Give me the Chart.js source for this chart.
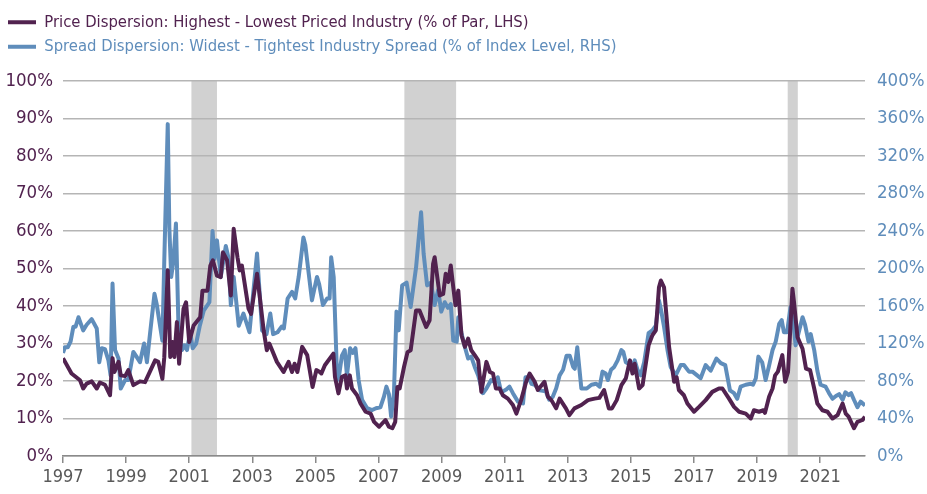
<!DOCTYPE html>
<html>
<head>
<meta charset="utf-8">
<script src="https://cdn.jsdelivr.net/npm/chart.js@4.4.1/dist/chart.umd.min.js"></script>
<style>
  html, body { margin: 0; padding: 0; background: #fff; }
  #wrap { width: 927px; height: 494px; }
</style>
</head>
<body>
<div id="wrap"><canvas id="dispersionChart" width="927" height="494"></canvas></div>
<script>
// Price dispersion (LHS, % of par)
var priceDates = [1997.0,1997.27,1997.54,1997.64,1997.75,1997.91,1998.07,1998.17,1998.33,1998.49,1998.57,1998.63,1998.76,1998.83,1998.97,
  1999.07,1999.23,1999.44,1999.6,1999.92,2000.02,2000.15,2000.21,2000.32,2000.4,2000.47,2000.53,2000.61,2000.68,2000.82,2000.9,
  2001.0,2001.14,2001.35,2001.42,2001.58,2001.67,2001.75,2001.88,2002.0,2002.07,2002.2,2002.32,2002.41,2002.53,2002.6,2002.67,2002.88,2002.96,
  2003.15,2003.25,2003.36,2003.46,2003.54,2003.78,2003.99,2004.15,2004.26,2004.34,2004.43,2004.58,2004.74,2004.91,
  2005.03,2005.14,2005.19,2005.3,2005.57,2005.62,2005.73,2005.84,2005.95,2006.0,2006.09,2006.16,2006.32,2006.43,2006.59,2006.75,2006.86,
  2007.02,2007.22,2007.33,2007.44,2007.53,2007.6,2007.67,2007.81,2007.92,2008.02,2008.19,2008.3,2008.51,2008.62,2008.73,2008.78,2008.94,
  2009.05,2009.13,2009.21,2009.29,2009.37,2009.44,2009.53,2009.63,2009.74,2009.84,2009.94,2010.05,2010.16,2010.26,2010.42,2010.53,2010.63,2010.72,2010.84,2010.94,
  2011.1,2011.26,2011.37,2011.52,2011.68,2011.79,2011.95,2012.05,2012.26,2012.37,2012.48,2012.63,2012.74,2012.94,
  2013.05,2013.21,2013.43,2013.64,2013.85,2014.0,2014.15,2014.3,2014.4,2014.55,2014.7,2014.84,2014.97,
  2015.05,2015.12,2015.26,2015.37,2015.56,2015.68,2015.79,2015.89,2015.95,2016.05,2016.21,2016.37,2016.45,2016.52,2016.68,2016.79,
  2017.0,2017.16,2017.37,2017.58,2017.79,2017.9,2018.11,2018.27,2018.43,2018.64,2018.8,2018.9,
  2019.06,2019.2,2019.25,2019.38,2019.49,2019.57,2019.66,2019.8,2019.89,2019.98,2020.12,2020.17,2020.28,2020.44,2020.55,2020.68,2020.81,2020.91,
  2021.07,2021.23,2021.39,2021.55,2021.71,2021.81,2021.9,2022.07,2022.18,2022.34,2022.42];
var priceValues = [26.1,22,20.2,18,19.3,19.9,18,19.6,19,16.2,26.1,22.4,25.1,21.5,21.3,
  22.9,18.9,19.9,19.7,25.5,25.1,20.6,26.3,49.5,26.4,30.4,26.4,35.7,24.6,39.3,41,
  30.4,34.8,37,44.1,44.1,50.8,52.2,48.1,47.7,54.3,52.2,42.8,60.6,53,49.5,50.8,39.3,37.9,
  48.6,41.5,33.5,28.2,30,25.1,22.4,25.1,22.4,24.6,22.4,29.1,26.9,18.4,
  22.9,22.4,22,24.2,27.3,21.1,16.7,21.1,21.5,18,21.5,18,16.2,14,11.8,11.3,9.1,
  7.8,9.6,7.8,7.4,9.1,18.4,18,23.8,27.7,28.2,38.8,38.8,34.4,36.2,51.2,53,42.8,
  43.2,48.6,46.4,50.8,45,40.2,44.1,32.2,29.1,31.3,28.2,26.9,25.5,17.1,25.1,22.4,22,18,18,16.2,
  15.3,13.6,11.3,14.9,19.8,22,19.8,17.6,19.8,15.8,14.9,12.7,15.3,12.7,
  10.9,12.7,13.6,14.9,15.3,15.5,17.6,12.7,12.7,14.9,18.9,20.7,25.5,
  22,24.6,18,18.9,29.5,32.2,33.5,45,46.8,45,29.1,19.8,21,17.6,16.2,14,
  11.8,13.1,14.9,17.1,18,18,15.3,13.1,11.8,11.3,10,12.2,
  11.8,12.2,11.5,15.8,18,21.5,22.5,26.9,19.8,22.4,44.6,41,31.7,28.6,23.3,22.9,18,14,
  12.2,11.8,10,10.9,14,11.3,10.5,7.4,9.1,9.6,10.5];

// Spread dispersion (RHS, % of index level)
var spreadDates = [1997.0,1997.06,1997.15,1997.24,1997.33,1997.4,1997.49,1997.64,1997.75,1997.91,1998.07,1998.15,1998.23,1998.33,1998.44,1998.51,1998.57,1998.65,1998.76,1998.83,1998.97,
  1999.07,1999.23,1999.33,1999.44,1999.57,1999.66,1999.76,1999.9,1999.97,2000.08,2000.15,2000.21,2000.32,2000.37,2000.43,2000.5,2000.58,2000.66,2000.77,2000.85,2000.93,
  2001.03,2001.11,2001.22,2001.33,2001.46,2001.64,2001.74,2001.8,2001.88,2002.0,2002.16,2002.24,2002.32,2002.41,2002.57,2002.72,2002.91,
  2003.15,2003.31,2003.45,2003.57,2003.66,2003.8,2003.93,2004.0,2004.12,2004.26,2004.36,2004.47,2004.62,2004.68,2004.89,
  2005.05,2005.12,2005.24,2005.37,2005.45,2005.5,2005.58,2005.69,2005.76,2005.84,2005.93,2006.0,2006.1,2006.18,2006.27,2006.37,2006.48,2006.64,2006.8,2006.92,
  2007.06,2007.17,2007.25,2007.33,2007.4,2007.49,2007.57,2007.64,2007.75,2007.89,2008.02,2008.19,2008.35,2008.43,2008.54,2008.66,2008.78,2008.89,2008.99,
  2009.1,2009.2,2009.29,2009.37,2009.48,2009.53,2009.63,2009.74,2009.84,2009.94,2010.05,2010.16,2010.31,2010.42,2010.57,2010.68,2010.78,2010.89,
  2011.05,2011.15,2011.26,2011.42,2011.58,2011.66,2011.75,2011.85,2011.95,2012.11,2012.3,2012.41,2012.52,2012.63,2012.74,2012.85,2012.96,
  2013.06,2013.17,2013.22,2013.3,2013.43,2013.6,2013.75,2013.9,2014.01,2014.1,2014.2,2014.27,2014.37,2014.47,2014.58,2014.7,2014.76,2014.84,2014.95,
  2015.05,2015.12,2015.21,2015.31,2015.42,2015.56,2015.68,2015.79,2015.89,2015.96,2016.05,2016.16,2016.26,2016.42,2016.58,2016.68,2016.84,2016.95,
  2017.1,2017.21,2017.37,2017.53,2017.71,2017.85,2017.99,2018.14,2018.27,2018.37,2018.48,2018.64,2018.8,2018.87,2018.96,
  2019.04,2019.16,2019.27,2019.37,2019.49,2019.59,2019.7,2019.78,2019.85,2019.95,2020.06,2020.13,2020.22,2020.32,2020.44,2020.52,2020.63,2020.7,2020.81,2020.91,
  2021.01,2021.17,2021.28,2021.39,2021.5,2021.6,2021.71,2021.8,2021.9,2021.98,2022.07,2022.18,2022.28,2022.42];
var spreadValues = [110,116,116,122,138,138,148,134,140,146,136,100,115,114,102,86,184,113,104,72,81,
  81,111,106,100,120,100,131,173,162,138,123,208,354,244,191,208,248,138,113,118,113,
  132,115,120,138,155,164,240,210,230,191,224,212,161,191,139,152,132,
  216,134,130,152,130,132,138,136,168,175,168,191,233,225,166,
  191,183,161,168,168,212,191,81,88,107,113,86,115,110,115,81,60,51,49,51,
  52,63,74,66,42,67,154,134,182,185,159,201,260,216,182,185,161,177,154,
  164,158,162,123,122,148,131,116,104,106,95,86,67,72,81,79,84,68,
  71,74,67,58,56,84,84,77,76,70,69,60,63,72,86,92,107,
  107,95,93,116,72,72,76,77,74,90,88,81,92,95,102,113,111,100,98,
  96,102,92,86,100,131,134,139,166,155,138,113,95,86,97,97,90,90,
  86,83,97,91,104,99,97,70,67,61,74,76,77,76,83,
  106,100,81,95,113,122,141,145,132,132,159,150,118,132,148,140,122,130,113,91,
  76,74,67,61,64,66,60,68,65,67,60,52,58,54];

// Recession periods (shaded)
var recessions = [[2001.07, 2001.88], [2007.82, 2009.46], [2019.97, 2020.29]];

var xTicks = [1997, 1999, 2001, 2003, 2005, 2007, 2009, 2011, 2013, 2015, 2017, 2019, 2021];

var purple = '#51224f';
var blue = '#5f8dbb';
var fontName = '"Liberation Sans Narrow", "DejaVu Sans Condensed", sans-serif';

Chart.defaults.font.family = fontName;

var recessionPlugin = {
    id: 'recessions',
    beforeInit: function(chart) {
        // un peu d'espace sous la légende
        if (chart.legend) {
            var origFit = chart.legend.fit;
            chart.legend.fit = function() {
                origFit.call(this);
                this.height += 16;
            };
        }
    },
    beforeDraw: function(chart) {
        var ctx = chart.ctx;
        var area = chart.chartArea;
        var x = chart.scales.x;
        ctx.save();
        ctx.fillStyle = '#d1d1d1';
        recessions.forEach(function(r) {
            var x0 = x.getPixelForValue(r[0]);
            var x1 = x.getPixelForValue(r[1]);
            ctx.fillRect(x0, area.top, x1 - x0, area.bottom - area.top);
        });
        ctx.restore();
    }
};

function toPoints(dates, values) {
    return dates.map(function(d, i) { return { x: d, y: values[i] }; });
}

var ctx = document.getElementById('dispersionChart').getContext('2d');
new Chart(ctx, {
    type: 'line',
    data: {
        datasets: [{
            label: 'Price Dispersion: Highest - Lowest Priced Industry (% of Par, LHS)',
            data: toPoints(priceDates, priceValues),
            borderColor: purple,
            backgroundColor: purple,
            borderWidth: 4,
            pointRadius: 0,
            tension: 0,
            borderJoinStyle: 'round',
            yAxisID: 'y'
        }, {
            label: 'Spread Dispersion: Widest - Tightest Industry Spread (% of Index Level, RHS)',
            data: toPoints(spreadDates, spreadValues),
            borderColor: blue,
            backgroundColor: blue,
            borderWidth: 4,
            pointRadius: 0,
            tension: 0,
            borderJoinStyle: 'round',
            yAxisID: 'y1'
        }]
    },
    options: {
        responsive: false,
        animation: false,
        layout: { padding: { top: 6, left: 0, right: 0, bottom: 0 } },
        plugins: {
            tooltip: { enabled: false },
            legend: {
                position: 'top',
                align: 'start',
                labels: {
                    boxWidth: 28,
                    boxHeight: 4,
                    padding: 8,
                    font: { size: 16.5 },
                    generateLabels: function(chart) {
                        var items = Chart.defaults.plugins.legend.labels.generateLabels(chart);
                        items.forEach(function(it) {
                            it.fontColor = it.strokeStyle;
                            it.fillStyle = it.strokeStyle;
                            it.lineWidth = 0;
                        });
                        return items;
                    }
                }
            }
        },
        scales: {
            x: {
                type: 'linear',
                min: 1997,
                max: 2022.42,
                afterBuildTicks: function(scale) {
                    scale.ticks = xTicks.map(function(v) { return { value: v }; });
                },
                afterFit: function(scale) { scale.height = 38; },
                ticks: {
                    color: '#595959',
                    font: { size: 18 },
                    maxRotation: 0,
                    autoSkip: false,
                    padding: 4,
                    callback: function(v) { return String(v); }
                },
                grid: {
                    display: true,
                    drawOnChartArea: false,
                    drawTicks: true,
                    tickLength: 7,
                    color: '#8a8a8a',
                    lineWidth: 1.5
                },
                border: { display: true, color: '#8a8a8a', width: 1.5 }
            },
            y: {
                position: 'left',
                min: 0,
                max: 100,
                afterFit: function(scale) { scale.width = 63; },
                ticks: {
                    stepSize: 10,
                    color: purple,
                    font: { size: 18.5 },
                    padding: 10,
                    callback: function(v) { return v + '%'; }
                },
                grid: { color: '#b5b5b5', lineWidth: 1.5, drawTicks: false },
                border: { display: false }
            },
            y1: {
                position: 'right',
                min: 0,
                max: 400,
                afterFit: function(scale) { scale.width = 62; },
                ticks: {
                    stepSize: 40,
                    color: blue,
                    font: { size: 18.5 },
                    padding: 12,
                    callback: function(v) { return v + '%'; }
                },
                grid: { drawOnChartArea: false, drawTicks: false },
                border: { display: false }
            }
        }
    },
    plugins: [recessionPlugin]
});
</script>
</body>
</html>
